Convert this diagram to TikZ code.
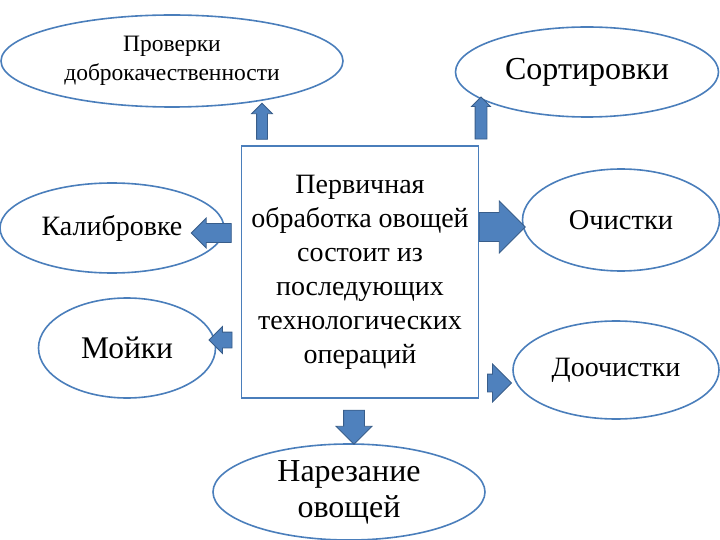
\documentclass[tikz,border=0pt]{standalone}
\usepackage{fontspec}
\setmainfont{Liberation Serif}
\usetikzlibrary{positioning, shapes.geometric, shapes.arrows}

\definecolor{edgeblue}{HTML}{4A7EBB}
\definecolor{arrowfill}{HTML}{4F81BD}
\definecolor{arrowdraw}{HTML}{385D8A}

\tikzset{
    oval/.style={draw=edgeblue, line width=1.6pt, ellipse, inner sep=0pt, align=center},
    mainbox/.style={draw=edgeblue, line width=1.6pt, rectangle, inner sep=0pt, align=center,
        minimum width=237, minimum height=252},
    % #1 = shaft half width, #2 = head extend
    blockarrow/.style 2 args={single arrow, fill=arrowfill, draw=arrowdraw, line width=0.8pt,
        inner xsep=0pt, inner ysep=#1, single arrow head extend=#2}
}

\begin{document}
\begin{tikzpicture}[x=1pt, y=-1pt]
    \useasboundingbox (0,0) rectangle (720,540);
    % central box
    \node[mainbox, font=\fontsize{28}{34}\selectfont] (M) at (360,272)
        {Первичная\\обработка овощей\\состоит из\\последующих\\технологических\\операций};
    % operations
    \node[oval, minimum width=342, minimum height=92, font=\fontsize{23.5}{29}\selectfont] (P) at (172,61)
        {Проверки\\доброкачественности};
    \node[oval, minimum width=263, minimum height=90, font=\fontsize{32}{38}\selectfont] (S) at (587,72) {Сортировки};
    \node[oval, minimum width=224, minimum height=90, font=\fontsize{28}{33}\selectfont] (K) at (112,228) {Калибровке};
    \node[oval, minimum width=197, minimum height=102, font=\fontsize{28.5}{33}\selectfont] (O) at (621,220) {Очистки};
    \node[oval, minimum width=177, minimum height=100, font=\fontsize{31.5}{37}\selectfont] (W) at (127,348) {Мойки};
    \node[oval, minimum width=206, minimum height=98, font=\fontsize{28}{33}\selectfont] (D) at (616,370) {Доочистки};
    \node[oval, minimum width=272, minimum height=96, font=\fontsize{32}{36}\selectfont] (N) at (349,492)
        {Нарезание\\овощей};
    % block arrows
    \node[blockarrow={5}{5}, rotate=90, minimum height=36] (aP) at (262,124) {};
    \node[blockarrow={5.5}{3.5}, rotate=90, minimum height=42] (aS) at (481,121) {};
    \node[blockarrow={9}{5.5}, rotate=180, minimum height=40] (aK) at (216,233) {};
    \node[blockarrow={14}{11.5}, minimum height=46] (aO) at (495,227) {};
    \node[blockarrow={7.5}{5.5}, rotate=180, minimum height=23] (aW) at (224.5,340) {};
    \node[blockarrow={8.5}{10}, minimum height=24] (aD) at (495,383) {};
    \node[blockarrow={10}{7.5}, rotate=-90, minimum height=34] (aN) at (354,422) {};
\end{tikzpicture}
\end{document}
